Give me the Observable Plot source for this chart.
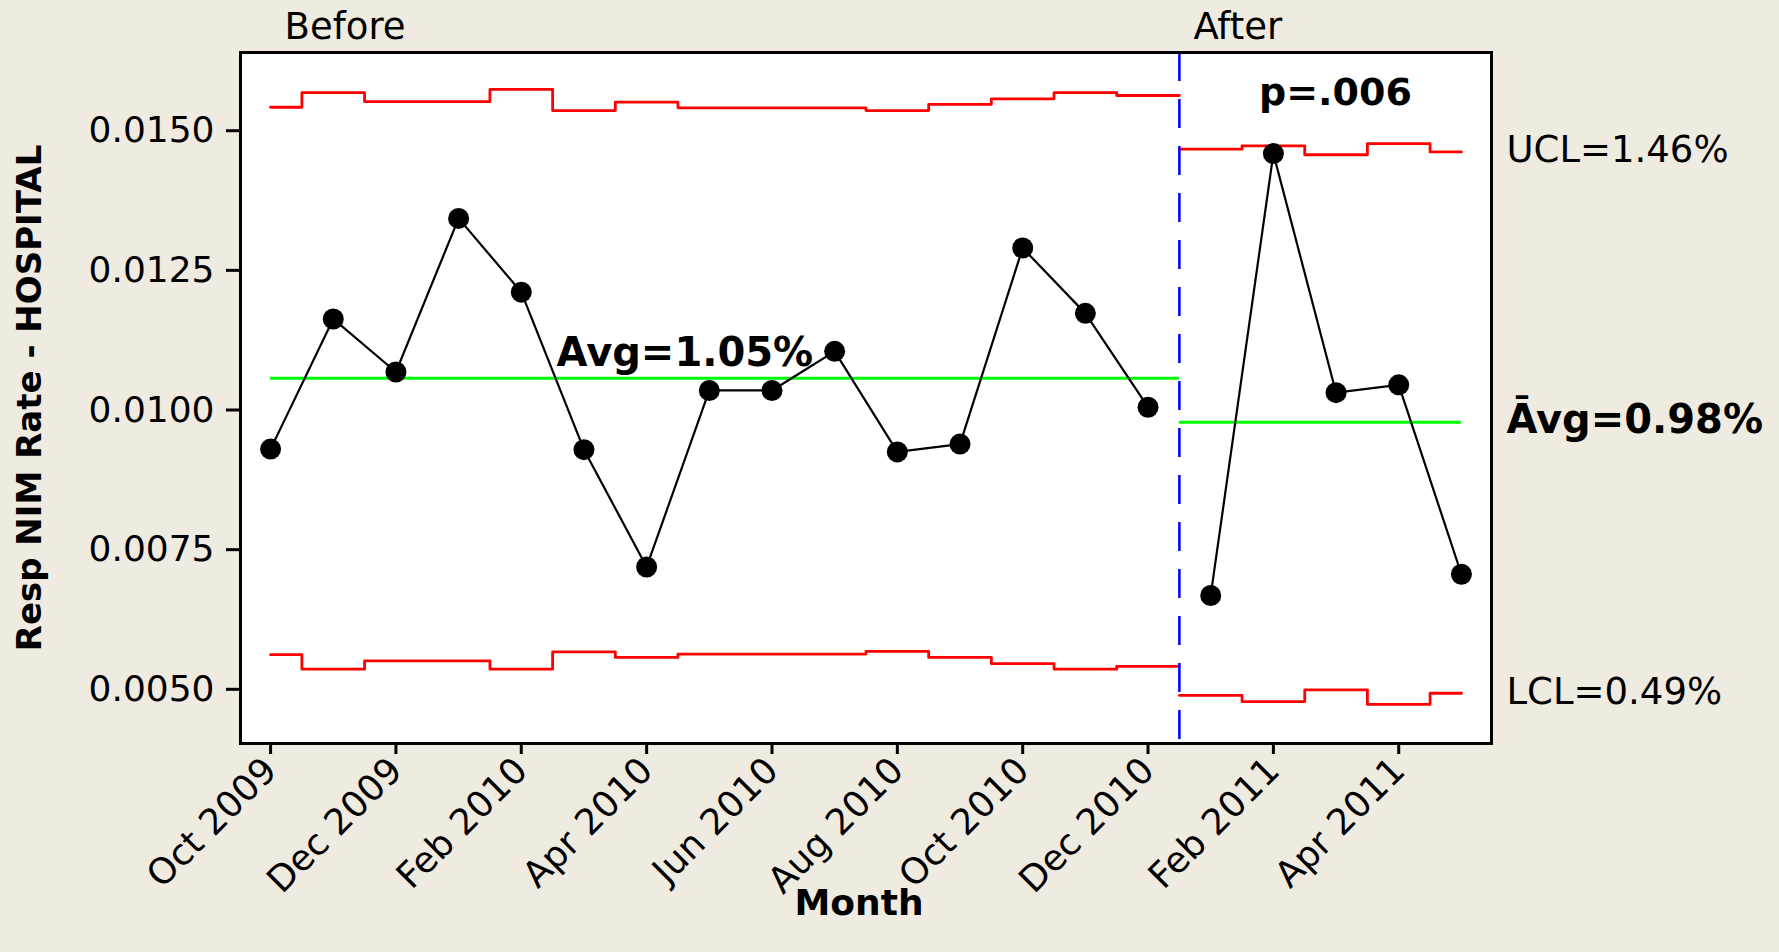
<!DOCTYPE html>
<html><head><meta charset="utf-8">
<script src="https://cdn.jsdelivr.net/npm/d3@7"></script>
<script src="https://cdn.jsdelivr.net/npm/@observablehq/plot@0.6"></script>
<style>
html,body{margin:0;padding:0;background:#F0EBE1;overflow:hidden;}
#chart svg{display:block;}
</style>
</head><body><div id="chart"></div>
<script>
// ---- data ----
const months = ["Oct 2009","Nov 2009","Dec 2009","Jan 2010","Feb 2010","Mar 2010","Apr 2010","May 2010","Jun 2010","Jul 2010","Aug 2010","Sep 2010","Oct 2010","Nov 2010","Dec 2010","Jan 2011","Feb 2011","Mar 2011","Apr 2011","May 2011"];
const rate = [0.00930,0.01163,0.01068,0.01343,0.01211,0.00929,0.00719,0.01035,0.01035,0.01105,0.00925,0.00939,0.01290,0.01173,0.01005,0.00668,0.01459,0.01031,0.01045,0.00706];
const ucl  = [0.01542,0.01568,0.01552,0.01552,0.01574,0.01536,0.01551,0.01541,0.01541,0.01541,0.01536,0.01547,0.01557,0.01568,0.01563,0.01467,0.01473,0.01457,0.01477,0.01462];
const lcl  = [0.00562,0.00536,0.00551,0.00551,0.00536,0.00567,0.00557,0.00563,0.00563,0.00563,0.00568,0.00557,0.00546,0.00536,0.00541,0.00489,0.00478,0.00499,0.00473,0.00493];
const phaseNames = ["Before","After"];
const phaseCounts = [15,5];
const phaseAvg = [0.01057,0.00978];
const tickMonths = ["Oct 2009","Dec 2009","Feb 2010","Apr 2010","Jun 2010","Aug 2010","Oct 2010","Dec 2010","Feb 2011","Apr 2011"];
const yTicks = [0.0050,0.0075,0.0100,0.0125,0.0150];
const pLabel = "p=.006";
const avgBeforeLabel = "Avg=1.05%";
const avgBeforeLabelAt = 4.5; // month index where label starts
const limitLabels = ["UCL=1.46%","\u0100vg=0.98%","LCL=0.49%"];
const yLabel = "Resp NIM Rate - HOSPITAL";
const xLabel = "Month";

// ---- derived tables ----
const n = months.length;
const split = phaseCounts[0];
const boundary = split - 0.5;
const xMin = -0.48, xMax = n - 0.52;
const rows = months.map((m, i) => ({i, month: m, rate: rate[i], ucl: ucl[i], lcl: lcl[i], phase: i < split ? phaseNames[0] : phaseNames[1]}));
const before = rows.slice(0, split), after = rows.slice(split);
const stepRows = [...before, {...before[before.length - 1], i: boundary}, {...after[0], i: boundary}, ...after];
const avgRows = [{y: phaseAvg[0], x1: 0, x2: boundary}, {y: phaseAvg[1], x1: boundary, x2: n - 1}];
const sections = [{t: phaseNames[0], x: 0}, {t: phaseNames[1], x: boundary}];

const RED = "#FF0000", GREEN = "#00FF00", BLUE = "#0000FF";

const chart = Plot.plot({
  width: 1779, height: 952,
  marginLeft: 240, marginRight: 288, marginTop: 52, marginBottom: 209,
  style: {background: "#F0EBE1", fontFamily: "'DejaVu Sans', sans-serif", fontSize: "34px", color: "black"},
  x: {domain: [xMin, xMax]},
  y: {domain: [0.00403, 0.0164]},
  marks: [
    Plot.frame({fill: "white"}),
    Plot.line(stepRows, {x: "i", y: "ucl", z: "phase", curve: "step", stroke: RED, strokeWidth: 2.8}),
    Plot.line(stepRows, {x: "i", y: "lcl", z: "phase", curve: "step", stroke: RED, strokeWidth: 2.8}),
    Plot.ruleY(avgRows, {y: "y", x1: "x1", x2: "x2", stroke: GREEN, strokeWidth: 3}),
    Plot.ruleX([boundary], {stroke: BLUE, strokeWidth: 2.5, strokeDasharray: "29,18"}),
    Plot.line(rows, {x: "i", y: "rate", z: "phase", stroke: "black", strokeWidth: 2.2}),
    Plot.dot(rows, {x: "i", y: "rate", r: 10.5, fill: "black", stroke: "none"}),
    Plot.frame({stroke: "black", strokeWidth: 3}),
    Plot.axisY(yTicks, {tickFormat: d3.format(".4f"), tickSize: 14, tickPadding: 12, strokeWidth: 3, fontSize: 36, label: null}),
    Plot.axisX(tickMonths.map(m => months.indexOf(m)), {tickFormat: i => months[i], tickRotate: -45, tickSize: 11, tickPadding: 10, strokeWidth: 3, fontSize: 36, label: null}),
    Plot.text(sections, {x: "x", text: "t", frameAnchor: "top", lineAnchor: "middle", dy: -25, dx: 14, textAnchor: "start", fontSize: 37}),
    Plot.text([pLabel], {x: [(boundary + xMax) / 2], text: d => d, frameAnchor: "top", lineAnchor: "middle", dy: 40, fontSize: 38, fontWeight: "bold"}),
    Plot.text([avgBeforeLabel], {x: [avgBeforeLabelAt], y: [phaseAvg[0]], text: d => d, dx: 4, dy: -25, textAnchor: "start", lineAnchor: "middle", fontSize: 40, fontWeight: "bold"}),
    Plot.text([limitLabels[0]], {y: [ucl[n - 1]], text: d => d, frameAnchor: "right", dx: 15, dy: -2, textAnchor: "start", lineAnchor: "middle", fontSize: 37}),
    Plot.text([limitLabels[1]], {y: [phaseAvg[1]], text: d => d, frameAnchor: "right", dx: 15, dy: -2, textAnchor: "start", lineAnchor: "middle", fontSize: 40, fontWeight: "bold"}),
    Plot.text([limitLabels[2]], {y: [lcl[n - 1]], text: d => d, frameAnchor: "right", dx: 15, dy: -1, textAnchor: "start", lineAnchor: "middle", fontSize: 37}),
    Plot.text([yLabel], {text: d => d, frameAnchor: "left", dx: -210, rotate: -90, textAnchor: "middle", lineAnchor: "middle", fontSize: 34, fontWeight: "bold"}),
    Plot.text([xLabel], {text: d => d, frameAnchor: "bottom", dx: -7, dy: 160, textAnchor: "middle", lineAnchor: "middle", fontSize: 36, fontWeight: "bold"})
  ]
});
document.getElementById("chart").appendChild(chart);
</script>
</body></html>
